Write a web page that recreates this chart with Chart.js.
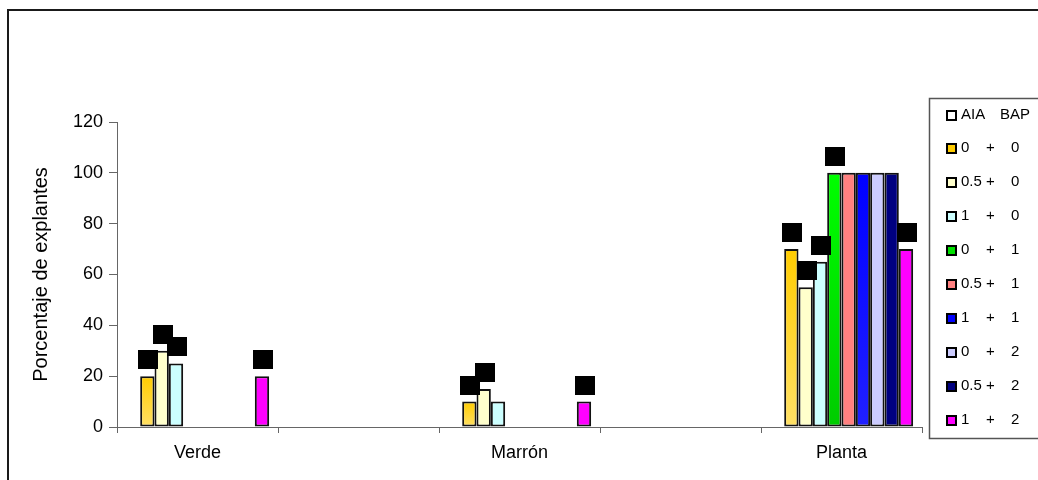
<!DOCTYPE html>
<html>
<head>
<meta charset="utf-8">
<title>Porcentaje de explantes</title>
<script src="https://cdn.jsdelivr.net/npm/chart.js@4/dist/chart.umd.min.js"></script>
<style>
    html, body { margin: 0; padding: 0; background: #ffffff; }
    #wrap { width: 1038px; height: 480px; position: relative; }
</style>
</head>
<body>
<div id="wrap"><canvas id="barChart" width="1038" height="480"></canvas></div>
<script>
    "use strict";

    // categorias (las vacias solo ocupan sitio entre grupos)
    var categories = ["Verde", "", "Marrón", "", "Planta"];
    var yTicks = [0, 20, 40, 60, 80, 100, 120];

    // leyenda: AIA + BAP
    var legendHeader = ["AIA", "BAP"];
    var aiaLabels = ["0", "0.5", "1", "0", "0.5", "1", "0", "0.5", "1"];
    var bapLabels = ["0", "0", "0", "1", "1", "1", "2", "2", "2"];

    var values00 = [20, null, 10, null, 70];
    var values050 = [30, null, 15, null, 55];
    var values10 = [25, null, 10, null, 65];
    var values01 = [null, null, null, null, 100];
    var values051 = [null, null, null, null, 100];
    var values11 = [null, null, null, null, 100];
    var values02 = [null, null, null, null, 100];
    var values052 = [null, null, null, null, 100];
    var values12 = [20, null, 10, null, 70];

    // etiquetas de datos (se ven como cuadros negros)
    var marks00 = [1, 0, 1, 0, 1];
    var marks050 = [1, 0, 1, 0, 1];
    var marks10 = [1, 0, 0, 0, 1];
    var marks01 = [0, 0, 0, 0, 1];
    var marks051 = [0, 0, 0, 0, 0];
    var marks11 = [0, 0, 0, 0, 0];
    var marks02 = [0, 0, 0, 0, 0];
    var marks052 = [0, 0, 0, 0, 0];
    var marks12 = [1, 0, 1, 0, 1];

    var FONT = "'Liberation Sans', Arial, sans-serif";

    function Gradient(topColor, bottomColor) {
        return function (context) {
            var chart = context.chart;
            var yScale = chart.scales.y;
            if (!yScale || context.raw === null || context.raw === undefined) {
                return topColor;
            }
            var top = yScale.getPixelForValue(context.raw);
            var base = yScale.getPixelForValue(0);
            if (!isFinite(top) || !isFinite(base) || top === base) {
                return topColor;
            }
            var g = chart.ctx.createLinearGradient(0, top, 0, base);
            g.addColorStop(0, topColor);
            g.addColorStop(1, bottomColor);
            return g;
        };
    }

    var seriesFill = [
        Gradient("#ffcc00", "#ffe066"),
        "#ffffcc",
        "#ccffff",
        Gradient("#00ff00", "#00cc00"),
        "#ff8080",
        Gradient("#0000ff", "#2020ff"),
        "#ccccff",
        "#000080",
        "#ff00ff"
    ];
    var legendFill = ["#ffcc00", "#ffffcc", "#ccffff", "#00e000", "#ff8080", "#0000ff", "#ccccff", "#000080", "#ff00ff"];
    var seriesValues = [values00, values050, values10, values01, values051, values11, values02, values052, values12];
    var seriesMarks = [marks00, marks050, marks10, marks01, marks051, marks11, marks02, marks052, marks12];

    function BuildDatasets() {
        // primera serie vacia: es la cabecera "AIA BAP" de la leyenda
        var datasets = [{
            label: legendHeader.join("   "),
            data: categories.map(function () { return null; }),
            backgroundColor: "#ffffff",
            borderColor: "#000000",
            borderWidth: 2,
            marks: [0, 0, 0, 0, 0]
        }];
        for (var i = 0; i < seriesValues.length; i++) {
            datasets.push({
                label: aiaLabels[i] + " + " + bapLabels[i],
                data: seriesValues[i],
                backgroundColor: seriesFill[i],
                borderColor: "#111111",
                borderWidth: 2,
                borderSkipped: false,
                marks: seriesMarks[i]
            });
        }
        return datasets;
    }

    var framePlugin = {
        id: "frame",
        beforeDraw: function (chart) {
            var ctx = chart.ctx;
            ctx.save();
            ctx.fillStyle = "#ffffff";
            ctx.fillRect(0, 0, chart.width, chart.height);
            ctx.strokeStyle = "#1a1a1a";
            ctx.lineWidth = 2;
            ctx.strokeRect(8, 10, chart.width + 20, chart.height + 20);
            ctx.restore();
        }
    };

    var marksPlugin = {
        id: "marks",
        afterDatasetsDraw: function (chart) {
            var ctx = chart.ctx;
            ctx.save();
            ctx.fillStyle = "#000000";
            chart.data.datasets.forEach(function (ds, di) {
                var meta = chart.getDatasetMeta(di);
                (ds.marks || []).forEach(function (m, i) {
                    if (!m || ds.data[i] === null) {
                        return;
                    }
                    var bar = meta.data[i];
                    ctx.fillRect(Math.round(bar.x - 9), Math.round(bar.y - 26), 20, 19);
                });
            });
            ctx.restore();
        }
    };

    var legendPlugin = {
        id: "boxLegend",
        afterDraw: function (chart) {
            var ctx = chart.ctx;
            var left = 929, top = 98, bottom = 438;
            ctx.save();
            ctx.strokeStyle = "#555555";
            ctx.lineWidth = 1.5;
            ctx.strokeRect(left + 0.5, top + 0.5, 200, bottom - top);

            ctx.font = "15px " + FONT;
            ctx.fillStyle = "#000000";
            ctx.textBaseline = "middle";

            function Marker(y, color) {
                ctx.fillStyle = color;
                ctx.fillRect(947, y - 4, 9, 9);
                ctx.strokeStyle = "#000000";
                ctx.lineWidth = 2;
                ctx.strokeRect(947, y - 4, 9, 9);
                ctx.fillStyle = "#000000";
            }

            var y = 115;
            Marker(y, "#ffffff");
            ctx.fillText(legendHeader[0], 961, y);
            ctx.fillText(legendHeader[1], 1000, y);

            for (var i = 0; i < aiaLabels.length; i++) {
                y = 148 + i * 34;
                Marker(y, legendFill[i]);
                ctx.fillText(aiaLabels[i], 961, y);
                ctx.fillText("+", 986, y);
                ctx.fillText(bapLabels[i], 1011, y);
            }
            ctx.restore();
        }
    };

    var ctx = document.getElementById("barChart");
    var myChart = new Chart(ctx, {
        type: "bar",
        data: {
            labels: categories,
            datasets: BuildDatasets()
        },
        options: {
            responsive: false,
            animation: false,
            devicePixelRatio: 1,
            layout: {
                padding: { top: 122, right: 116, bottom: 0, left: 0 }
            },
            datasets: {
                bar: {
                    categoryPercentage: 0.89,
                    barPercentage: 1.0
                }
            },
            plugins: {
                legend: { display: false },
                title: { display: false },
                tooltip: { enabled: false }
            },
            scales: {
                x: {
                    offset: true,
                    grid: {
                        display: true,
                        offset: true,
                        drawOnChartArea: false,
                        drawTicks: true,
                        tickLength: 6,
                        color: "#666666"
                    },
                    border: { color: "#666666", width: 1 },
                    ticks: {
                        color: "#000000",
                        autoSkip: false,
                        maxRotation: 0,
                        padding: 9,
                        font: { family: FONT, size: 18 }
                    },
                    afterFit: function (scale) {
                        scale.height = 53;
                    }
                },
                y: {
                    min: yTicks[0],
                    max: yTicks[yTicks.length - 1],
                    afterBuildTicks: function (scale) {
                        scale.ticks = yTicks.map(function (v) { return { value: v }; });
                    },
                    grid: {
                        display: true,
                        drawOnChartArea: false,
                        drawTicks: true,
                        tickLength: 8,
                        color: "#666666"
                    },
                    border: { color: "#666666", width: 1 },
                    ticks: {
                        color: "#000000",
                        padding: 6,
                        font: { family: FONT, size: 18 }
                    },
                    title: {
                        display: true,
                        text: "Porcentaje de explantes",
                        color: "#000000",
                        font: { family: FONT, size: 20 },
                        padding: { top: 29, bottom: 0 }
                    },
                    afterFit: function (scale) {
                        scale.width = 117;
                    }
                }
            }
        },
        plugins: [framePlugin, marksPlugin, legendPlugin]
    });
</script>
</body>
</html>
